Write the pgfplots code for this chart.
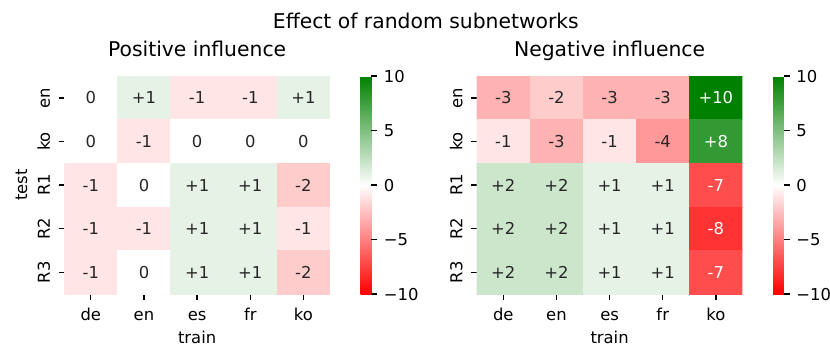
\documentclass[border=0pt]{standalone}
\usepackage{fontspec}
\setmainfont{DejaVu Sans}
\usepackage{pgfplots}
\pgfplotsset{compat=1.18}
\usepackage{pgfplotstable}
\definecolor{ann}{HTML}{262626}

% positive influence: x = train (de,en,es,fr,ko), y = test (en,ko,R1,R2,R3)
\pgfplotstableread{
x y c lab
0 0 0 0
1 0 1 +1
2 0 -1 -1
3 0 -1 -1
4 0 1 +1
0 1 0 0
1 1 -1 -1
2 1 0 0
3 1 0 0
4 1 0 0
0 2 -1 -1
1 2 0 0
2 2 1 +1
3 2 1 +1
4 2 -2 -2
0 3 -1 -1
1 3 -1 -1
2 3 1 +1
3 3 1 +1
4 3 -1 -1
0 4 -1 -1
1 4 0 0
2 4 1 +1
3 4 1 +1
4 4 -2 -2
}\posdata

\pgfplotstableread{
x y c
0 0 -3
1 0 -2
2 0 -3
3 0 -3
4 0 10
0 1 -1
1 1 -3
2 1 -1
3 1 -4
4 1 8
0 2 2
1 2 2
2 2 1
3 2 1
4 2 -7
0 3 2
1 3 2
2 3 1
3 3 1
4 3 -8
0 4 2
1 4 2
2 4 1
3 4 1
4 4 -7
}\negdata

\pgfplotstableread{
x y lab
0 0 -3
1 0 -2
2 0 -3
3 0 -3
0 1 -1
1 1 -3
2 1 -1
3 1 -4
0 2 +2
1 2 +2
2 2 +1
3 2 +1
0 3 +2
1 3 +2
2 3 +1
3 3 +1
0 4 +2
1 4 +2
2 4 +1
3 4 +1
}\negdark

\pgfplotstableread{
x y lab
4 0 +10
4 1 +8
4 2 -7
4 3 -8
4 4 -7
}\negwhite

\pgfplotsset{
  hm/.style={
    scale only axis, width=162.1pt, height=133pt,
    xmin=-0.5, xmax=4.5, ymin=-0.5, ymax=4.5, y dir=reverse,
    colormap={rwg}{rgb255=(255,0,0) rgb255=(255,255,255) rgb255=(0,128,0)},
    point meta min=-10, point meta max=10,
    xtick={0,1,2,3,4}, ytick={0,1,2,3,4},
    xticklabels={de,en,es,fr,ko}, yticklabels={en,ko,R1,R2,R3},
    axis line style={draw=none},
    tick align=outside, major tick length=3.5pt,
    tick style={black, line width=0.8pt},
    xtick pos=bottom, ytick pos=left,
    ticklabel style={font=\fontsize{10}{12}\selectfont},
    xticklabel style={anchor=base, inner sep=0pt},
    xticklabel shift=12.4pt,
    yticklabel style={rotate=90, anchor=base, inner sep=0pt},
    yticklabel shift=5.2pt,
    xlabel={train},
    xlabel style={at={(axis description cs:0.5,0)}, anchor=base, yshift=-29.9pt, inner sep=0pt, font=\fontsize{10}{12}\selectfont},
    title style={at={(axis description cs:0.5,1)}, anchor=base, yshift=5.7pt, inner sep=0pt, font=\fontsize{12.4}{14}\selectfont},
    colorbar,
    colorbar style={
      at={(parent axis.north east)}, anchor=north west, xshift=10.2pt,
      width=6.5pt,
      ytick={-10,-5,0,5,10},
      yticklabels={−10,−5,0,5,10},
      axis line style={draw=none},
      tick align=outside, major tick length=3.5pt,
      tick style={black, line width=0.8pt},
      ytick pos=right, yticklabel pos=right,
      yticklabel style={anchor=west, inner sep=0pt, font=\fontsize{10}{12}\selectfont},
      yticklabel shift=4pt,
    },
    labelstyle/.style={only marks, mark=none, point meta=explicit symbolic,
      nodes near coords, nodes near coords align={center},
      every node near coord/.append style={anchor=center, inner sep=0pt, font=\fontsize{10}{12}\selectfont, text=##1}},
  }
}

\begin{document}
\begin{tikzpicture}
\useasboundingbox (0,0) rectangle (506.3pt,-219pt);
\node[anchor=base west, inner sep=0pt, font=\fontsize{12.4}{14}\selectfont] at (166.3pt,-17.3pt) {Effect of random subnetworks};

\begin{axis}[hm, at={(39.2pt,-46.4pt)}, anchor=north west,
  title={Positive influence},
  ylabel={test},
  ylabel style={at={(axis description cs:-0.14,0.5)}, anchor=base, inner sep=0pt, font=\fontsize{10}{12}\selectfont},
]
\addplot[matrix plot*, mesh/cols=5, point meta=explicit] table[x=x, y=y, meta=c] {\posdata};
\addplot[labelstyle=ann] table[x=x, y=y, meta=lab] {\posdata};
\end{axis}

\begin{axis}[hm, at={(290.8pt,-46.4pt)}, anchor=north west,
  title={Negative influence},
]
\addplot[matrix plot*, mesh/cols=5, point meta=explicit] table[x=x, y=y, meta=c] {\negdata};
\addplot[labelstyle=ann] table[x=x, y=y, meta=lab] {\negdark};
\addplot[labelstyle=white] table[x=x, y=y, meta=lab] {\negwhite};
\end{axis}
\end{tikzpicture}
\end{document}
